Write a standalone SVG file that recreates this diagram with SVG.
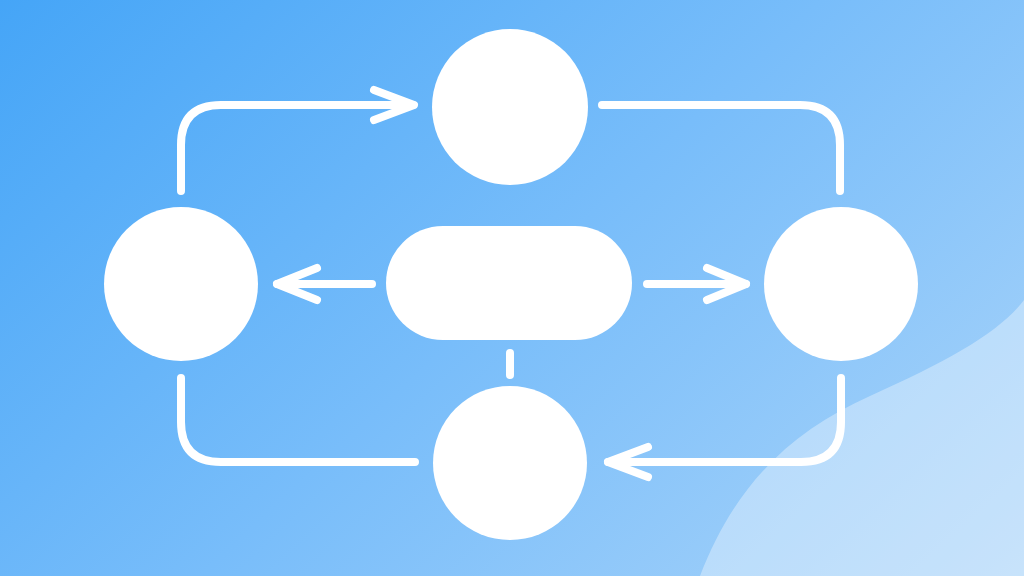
<svg xmlns="http://www.w3.org/2000/svg" width="1024" height="576" viewBox="0 0 1024 576">
<defs>
<linearGradient id="bg" x1="0" y1="0" x2="760" y2="820" gradientUnits="userSpaceOnUse">
<stop offset="0" stop-color="#45a5f7"/>
<stop offset="0.5" stop-color="#78bdfa"/>
<stop offset="1" stop-color="#aad4f9"/>
</linearGradient>
<style>
.node{fill:#ffffff}
.con{fill:none;stroke:#ffffff;stroke-width:8;stroke-linecap:round;stroke-linejoin:round}
</style>
</defs>
<rect width="1024" height="576" fill="url(#bg)"/>
<path d="M700,576 C735,485 790,432 870,396 C950,360 1000,332 1024,300 L1024,576 Z" fill="#ffffff" fill-opacity="0.35"/>
<g id="node-top"><circle class="node" cx="510" cy="107" r="78"/></g>
<g id="node-left"><circle class="node" cx="181" cy="284" r="77"/></g>
<g id="node-right"><circle class="node" cx="841" cy="284" r="77"/></g>
<g id="node-bottom"><circle class="node" cx="510" cy="463" r="77"/></g>
<g id="node-center"><rect class="node" x="386" y="226" width="246" height="114" rx="57" ry="57"/></g>
<g id="connectors">
<path class="con" d="M181,191 V145 Q181,105 221,105 H413"/>
<path class="con" d="M374,90 L414,105 L374,120"/>
<path class="con" d="M602,105 H800 Q840,105 840,145 V191"/>
<path class="con" d="M841,378 V422 Q841,462 801,462 H608"/>
<path class="con" d="M648,447 L608,462 L648,477"/>
<path class="con" d="M415,462 H221 Q181,462 181,422 V378"/>
<path class="con" d="M372,284 H277"/>
<path class="con" d="M317,268 L277,284 L317,300"/>
<path class="con" d="M647,284 H746"/>
<path class="con" d="M707,268 L746,284 L707,300"/>
<path class="con" d="M510,353 V375"/>
</g>
</svg>
